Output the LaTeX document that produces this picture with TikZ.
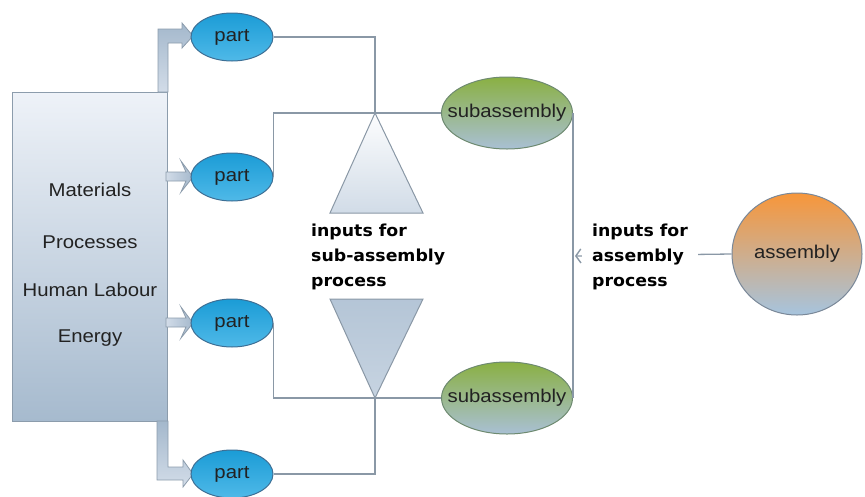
\documentclass[tikz,border=0pt]{standalone}
\usepackage{fontspec}
\setmainfont{Liberation Sans}[FakeStretch=1.1]
\newfontfamily\lblfont{DejaVu Sans}[FakeStretch=1.05]
\usetikzlibrary{shapes.geometric,arrows.meta}

\definecolor{wire}{HTML}{8A98A6}
\definecolor{txt}{HTML}{222222}
\definecolor{boxtop}{HTML}{EEF2F8}
\definecolor{boxbot}{HTML}{A6BACE}
\definecolor{boxline}{HTML}{8C9CAC}
\definecolor{parttop}{HTML}{1B9CD6}
\definecolor{partbot}{HTML}{4FB9E8}
\definecolor{partline}{HTML}{3D6F95}
\definecolor{subtop}{HTML}{8AB043}
\definecolor{subbot}{HTML}{A9C0D4}
\definecolor{subline}{HTML}{6E8A70}
\definecolor{asmtop}{HTML}{F7963A}
\definecolor{asmbot}{HTML}{A6C4DE}
\definecolor{asmline}{HTML}{7A8898}
\definecolor{arrtop}{HTML}{D2DCE8}
\definecolor{arrbot}{HTML}{A4B8CC}

\tikzset{
  basefont/.style={font=\fontsize{18.5}{22}\selectfont, text=txt},
  partnode/.style={ellipse, basefont, minimum width=82, minimum height=48,
    inner sep=0, draw=partline, line width=1, top color=parttop, bottom color=partbot},
  subnode/.style={ellipse, basefont, minimum width=131, minimum height=72,
    inner xsep=-16, inner ysep=0, draw=subline, line width=1,
    top color=subtop, bottom color=subbot},
  asmnode/.style={ellipse, basefont, minimum width=130, minimum height=122,
    inner sep=0, draw=asmline, line width=1, top color=asmtop, bottom color=asmbot},
  boxlabel/.style={basefont},
  wireline/.style={draw=wire, line width=1.3},
  blockarrow/.style={draw=boxline, line width=0.8, left color=arrtop, right color=arrbot},
  tri/.style={draw=wire, line width=1},
  inputlabel/.style={align=left, anchor=west, inner sep=0,
    font=\lblfont\bfseries\fontsize{16.5}{25}\selectfont, text=black},
}

\begin{document}
\begin{tikzpicture}[x=1pt, y=-1pt]
\useasboundingbox (0,0) rectangle (865,496);

% resource block
\path[draw=boxline, line width=1, top color=boxtop, bottom color=boxbot]
  (12,92) rectangle (167,421);
\node[boxlabel] (mat) at (90,190) {Materials};
\node[boxlabel] (proc) at (90,242) {Processes};
\node[boxlabel] (lab) at (90,290) {Human Labour};
\node[boxlabel] (ene) at (90,338) {Energy};

% block arrows feeding the parts
\path[blockarrow, top color=arrbot, bottom color=arrtop]
  (158,92) -- (158,29) -- (182,29) -- (182,23) -- (193,36) -- (182,48) -- (182,43)
  -- (168,43) -- (168,92) -- cycle;
\path[blockarrow]
  (166,172) -- (186,172) -- (181,161) -- (193,177) -- (181,192) -- (186,181)
  -- (166,181) -- cycle;
\path[blockarrow]
  (166,318) -- (186,318) -- (181,307) -- (193,323) -- (181,338) -- (186,327)
  -- (166,327) -- cycle;
\path[blockarrow, top color=arrbot, bottom color=arrtop]
  (157,421) -- (157,480) -- (183,480) -- (183,487) -- (193,474) -- (183,460) -- (183,467)
  -- (168,467) -- (168,421) -- cycle;

% parts
\node[partnode] (p1) at (232,37) {part};
\node[partnode] (p2) at (232,177) {part};
\node[partnode] (p3) at (232,323) {part};
\node[partnode] (p4) at (232,474) {part};

% sub-assembly input triangles
\coordinate (apexT) at (375,113);
\coordinate (apexB) at (375,398);
\path[tri, top color=white!85!boxtop, bottom color=boxtop!60!boxbot]
  (apexT) -- (423,213) -- (330,213) -- cycle;
\path[tri, top color=boxtop!20!boxbot, bottom color=boxtop!45!boxbot]
  (330,299) -- (423,299) -- (apexB) -- cycle;

% subassemblies and assembly
\node[subnode] (sa1) at (507,113) {subassembly};
\node[subnode] (sa2) at (507,398) {subassembly};
\node[asmnode] (asm) at (797,254) {assembly};

% connectors
\draw[wireline] (p1.east) -| (apexT);
\draw[wireline] (p2.east) |- (sa1.west);
\draw[wireline] (p3.east) |- (sa2.west);
\draw[wireline] (p4.east) -| (apexB);
\draw[wireline] (sa1.east) -- (sa2.east);

\coordinate (rail) at (575,256);
\draw[wireline, -{Straight Barb[length=5, width=14, line width=1.4]}] (asm.west) -- (rail);

% labels
\node[inputlabel] (sublbl) at (311,257) {inputs for\\sub-assembly\\process};
\node[inputlabel, fill=white, inner xsep=10, inner ysep=2] (asmlbl) at (582,257)
  {inputs for\\assembly\\process};
\end{tikzpicture}
\end{document}
